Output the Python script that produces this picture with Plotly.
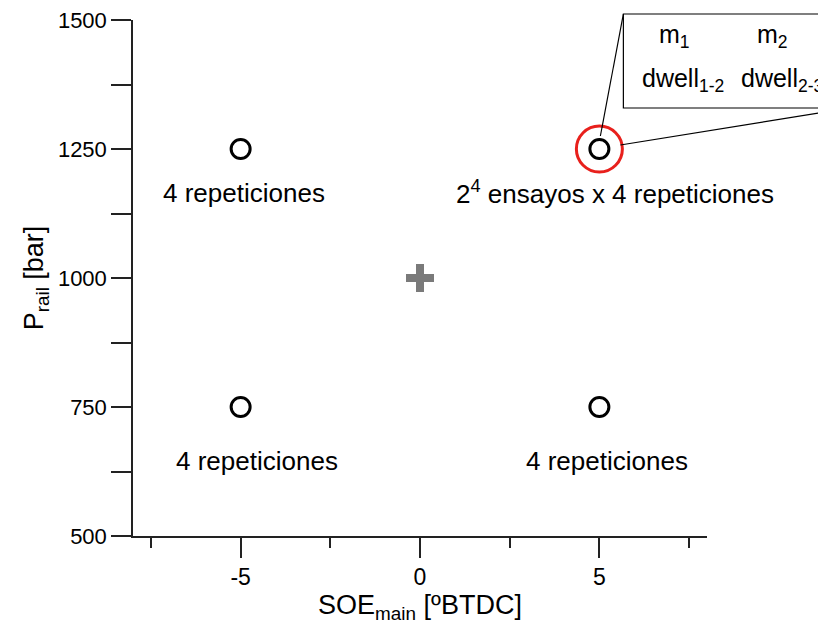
import plotly.graph_objects as go

# Design points
pts_x = [-5, -5, 5, 5]
pts_y = [1250, 750, 750, 1250]
center_x = [0]
center_y = [1000]
# highlighted point
hl_x = [5]
hl_y = [1250]

# labels
label_text = ["4 repeticiones", "4 repeticiones", "4 repeticiones",
              "2<sup>4</sup> ensayos x 4 repeticiones"]
label_x = [-4.92, -4.53, 5.2, 5.44]
label_y = [1165, 645, 645, 1165]

x_range = [-8, 8]
y_range = [500, 1500]
x_ticks = [-5, 0, 5]
x_ticktext = ["-5", "0", "5"]
y_ticks = [500, 750, 1000, 1250, 1500]

FONT = "Liberation Sans, Arial, sans-serif"

fig = go.Figure()
fig.add_trace(go.Scatter(x=hl_x, y=hl_y, mode="markers",
                         marker=dict(symbol="circle-open", size=46, color="#e8201c",
                                     line=dict(width=3, color="#e8201c")),
                         hoverinfo="skip", showlegend=False))
fig.add_trace(go.Scatter(x=pts_x, y=pts_y, mode="markers",
                         marker=dict(symbol="circle-open", size=19, color="black",
                                     line=dict(width=3, color="black")),
                         showlegend=False))
fig.add_trace(go.Scatter(x=center_x, y=center_y, mode="markers",
                         marker=dict(symbol="cross-thin", size=20, color="#7a7a7a",
                                     line=dict(width=8, color="#7a7a7a")),
                         showlegend=False))

for t, x, y in zip(label_text, label_x, label_y):
    fig.add_annotation(x=x, y=y, text=t, showarrow=False,
                       font=dict(family=FONT, size=26, color="black"),
                       xanchor="center", yanchor="middle")

# callout box and connector lines, anchored to the highlighted point (pixel offsets)
ax_p = (hl_x[0] - x_range[0]) / (x_range[1] - x_range[0])
ay_p = (hl_y[0] - y_range[0]) / (y_range[1] - y_range[0])
common = dict(xref="paper", yref="paper", xsizemode="pixel", ysizemode="pixel",
              xanchor=ax_p, yanchor=ay_p)
fig.add_shape(type="rect", x0=24, x1=400, y0=41, y1=135,
              line=dict(color="black", width=1.2), fillcolor="white", layer="above", **common)
fig.add_shape(type="line", x0=1, y0=13, x1=24, y1=135,
              line=dict(color="black", width=1.2), layer="above", **common)
fig.add_shape(type="line", x0=21, y0=4, x1=300, y1=49,
              line=dict(color="black", width=1.2), layer="above", **common)

box_text = ["m<sub>1</sub>", "m<sub>2</sub>", "dwell<sub>1-2</sub>", "dwell<sub>2-3</sub>"]
box_dx = [75, 173, 84, 140]
box_dy = [113, 113, 69, 69]
box_anchor = ["center", "center", "center", "left"]
for t, dx, dy, a in zip(box_text, box_dx, box_dy, box_anchor):
    fig.add_annotation(x=hl_x[0], y=hl_y[0], text=t, showarrow=False,
                       xshift=dx, yshift=dy, xanchor=a, yanchor="middle",
                       font=dict(family=FONT, size=25, color="black"))

fig.update_layout(
    width=818, height=620,
    margin=dict(l=125, r=119, t=12, b=92),
    plot_bgcolor="white", paper_bgcolor="white",
    font=dict(family=FONT, color="black"),
    xaxis=dict(range=x_range, tickvals=x_ticks, ticktext=x_ticktext, ticks="outside",
               ticklen=20, automargin=False, ticklabeloverflow="allow",
               tickwidth=1.5, tickcolor="#222", showline=True, linecolor="#222",
               linewidth=1.5, showgrid=False, zeroline=False,
               minor=dict(tickvals=[-7.5, -2.5, 2.5, 7.5], ticks="outside", ticklen=10,
                          tickwidth=1.5, tickcolor="#222", showgrid=False),
               tickfont=dict(size=23, family=FONT),
               title=dict(text="SOE<sub>main</sub> [ºBTDC]", font=dict(size=27, family=FONT),
                          standoff=2)),
    yaxis=dict(range=y_range, tickvals=y_ticks, ticks="outside", ticklen=20,
               automargin=False, ticklabeloverflow="allow",
               tickwidth=1.5, tickcolor="#222", showline=True, linecolor="#222",
               linewidth=1.5, showgrid=False, zeroline=False,
               minor=dict(tickvals=[625, 875, 1125, 1375], ticks="outside", ticklen=20,
                          tickwidth=1.5, tickcolor="#222", showgrid=False),
               tickfont=dict(size=22, family=FONT),
               title=dict(text="P<sub>rail</sub> [bar]", font=dict(size=27, family=FONT),
                          standoff=6)),
)

fig.write_html("out.html")
